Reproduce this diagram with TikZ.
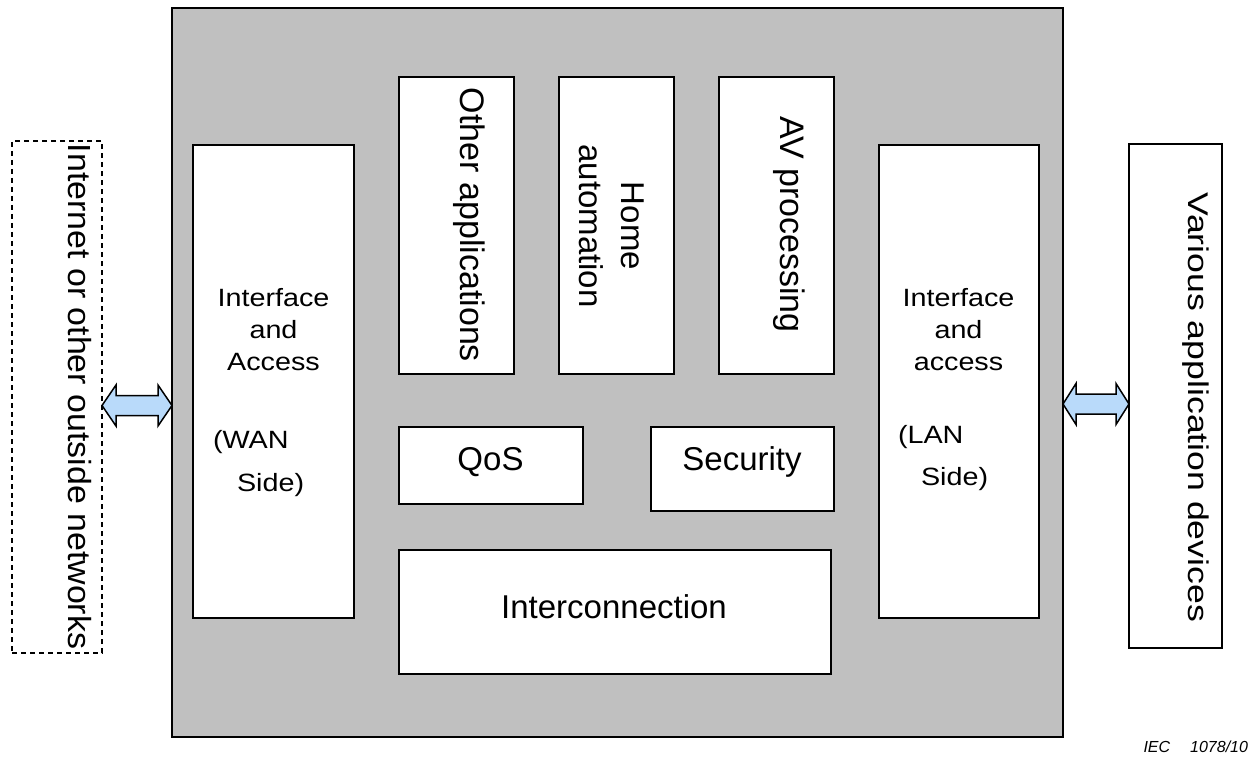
\documentclass[tikz,border=0pt]{standalone}
\usepackage{fontspec}
\setmainfont{Liberation Sans}
\newfontfamily\ifacefont[FakeStretch=1.15]{Liberation Sans}
\newfontfamily\inetfont[FakeStretch=1.06]{Liberation Sans}
\newfontfamily\variousfont[FakeStretch=1.25]{Liberation Sans}
\usetikzlibrary{calc}
\definecolor{panelgray}{RGB}{192,192,192}
\definecolor{arrowblue}{RGB}{185,218,250}
\begin{document}
\begin{tikzpicture}[x=1pt,y=-1pt,
  box/.style={draw=black,line width=1.5pt,fill=white,rectangle,inner sep=0pt,outer sep=0pt,anchor=north west},
  panel/.style={box,fill=panelgray},
  dashbox/.style={box,fill=none,line width=1.3pt,dash pattern=on 5pt off 4pt},
  lbl/.style={inner sep=0pt,outer sep=0pt,anchor=base},
  vlbl/.style={lbl,rotate=-90},
  barrow/.style={draw=black,line width=1.5pt,fill=arrowblue}]
\useasboundingbox (0,0) rectangle (1253,765);

% boxes
\node[panel,minimum width=891pt,minimum height=729pt] (gray) at (172,8) {};
\node[dashbox,minimum width=90pt,minimum height=512pt] (inet) at (12,141) {};
\node[box,minimum width=93pt,minimum height=504pt] (various) at (1129,144) {};
\node[box,minimum width=161pt,minimum height=473pt] (wan) at (193,145) {};
\node[box,minimum width=160pt,minimum height=473pt] (lan) at (879,145) {};
\node[box,minimum width=115pt,minimum height=297pt] (other) at (399,77) {};
\node[box,minimum width=115pt,minimum height=297pt] (home) at (559,77) {};
\node[box,minimum width=115pt,minimum height=297pt] (av) at (719,77) {};
\node[box,minimum width=184pt,minimum height=77pt] (qos) at (399,427) {};
\node[box,minimum width=183pt,minimum height=84pt] (sec) at (651,427) {};
\node[box,minimum width=432pt,minimum height=124pt] (inter) at (399,550) {};

% double arrows
\coordinate (la) at (inet.east |- 0,405.5);
\coordinate (lb) at (gray.west |- 0,405.5);
\coordinate (ra) at (gray.east |- 0,404);
\coordinate (rb) at (various.west |- 0,404);
\draw[barrow] let \p1=(la), \p2=(lb) in
  (\x1,\y1) -- (\x1+14pt,\y1+20.5pt) -- (\x1+14pt,\y1+10pt) -- (\x2-14pt,\y1+10pt)
  -- (\x2-14pt,\y1+20.5pt) -- (\x2,\y1) -- (\x2-14pt,\y1-20.5pt) -- (\x2-14pt,\y1-10pt)
  -- (\x1+14pt,\y1-10pt) -- (\x1+14pt,\y1-20.5pt) -- cycle;
\draw[barrow] let \p1=(ra), \p2=(rb) in
  (\x1,\y1) -- (\x1+13pt,\y1+20.5pt) -- (\x1+13pt,\y1+10pt) -- (\x2-13pt,\y1+10pt)
  -- (\x2-13pt,\y1+20.5pt) -- (\x2,\y1) -- (\x2-13pt,\y1-20.5pt) -- (\x2-13pt,\y1-10pt)
  -- (\x1+13pt,\y1-10pt) -- (\x1+13pt,\y1-20.5pt) -- cycle;

% rotated labels
\node[vlbl,font=\inetfont\fontsize{32}{38}\selectfont] (inettxt) at (68.3,396.5) {Internet or other outside networks};
\node[vlbl,font=\variousfont\fontsize{28.5}{34}\selectfont] (vartxt) at (1188,407.5) {Various application devices};
\node[vlbl,font=\fontsize{34}{40}\selectfont] (othertxt) at (460,225) {Other applications};
\node[vlbl,font=\fontsize{33}{42}\selectfont,align=center] (hometxt) at (579,226) {Home\\automation};
\node[vlbl,font=\fontsize{34}{40}\selectfont] (avtxt) at (780,224.5) {AV processing};

% horizontal labels
\node[lbl,font=\ifacefont\fontsize{25}{32}\selectfont,align=center] (wantxt) at (273.5,370) {Interface\\and\\Access};
\node[lbl,anchor=base west,font=\ifacefont\fontsize{25}{43}\selectfont,align=left] (wanside) at (213,491) {(WAN\\\hspace*{24pt}Side)};
\node[lbl,font=\ifacefont\fontsize{25}{32}\selectfont,align=center] (lantxt) at (958.5,370) {Interface\\and\\access};
\node[lbl,anchor=base west,font=\ifacefont\fontsize{25}{42}\selectfont,align=left] (lanside) at (898,485) {(LAN\\\hspace*{23pt}Side)};
\node[lbl,font=\fontsize{33}{40}\selectfont] (qostxt) at (490.5,470) {QoS};
\node[lbl,font=\fontsize{33}{40}\selectfont] (sectxt) at (742,470) {Security};
\node[lbl,font=\fontsize{33}{40}\selectfont] (intertxt) at (614,618) {Interconnection};
\node[lbl,anchor=base east,font=\itshape\fontsize{16}{19}\selectfont] (iec) at (1248,752) {IEC\hspace{20pt}1078/10};
\end{tikzpicture}
\end{document}
